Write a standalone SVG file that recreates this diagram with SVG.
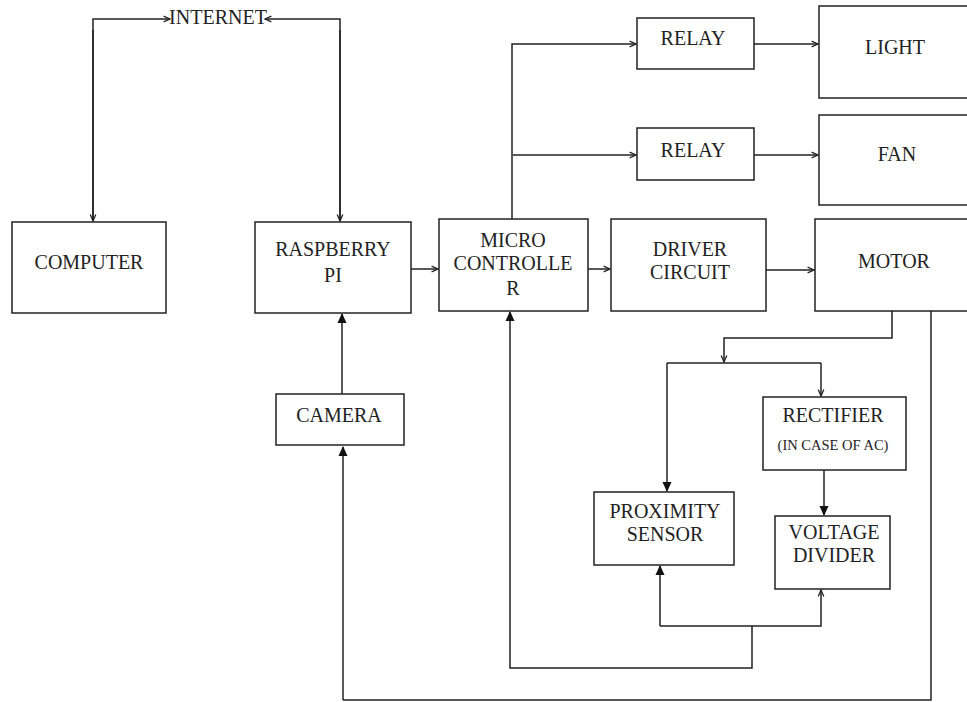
<svg xmlns="http://www.w3.org/2000/svg" width="967" height="702" viewBox="0 0 967 702">
<style>
rect.box{fill:#fff;stroke:#222;stroke-width:1.5}
text{font-family:"Liberation Serif","Times New Roman",serif;font-size:20px;fill:#222;text-anchor:middle}
text.small{font-size:14.5px}
.wire{fill:none;stroke:#222;stroke-width:1.5}
.thin{marker-end:url(#ao)}
.solid{marker-end:url(#as)}
</style>
<defs>
<marker id="ao" viewBox="0 0 10 10" refX="9" refY="5" markerWidth="8" markerHeight="8" markerUnits="userSpaceOnUse" orient="auto">
<path d="M1,1.5 L9,5 L1,8.5" fill="none" stroke="#222" stroke-width="1.6"/>
</marker>
<marker id="as" viewBox="0 0 10 10" refX="9" refY="5" markerWidth="10" markerHeight="10" markerUnits="userSpaceOnUse" orient="auto">
<path d="M0,0.5 L10,5 L0,9.5 Z" fill="#111"/>
</marker>
</defs>
<rect width="967" height="702" fill="#fff"/>
<g id="connectors">
<path class="wire thin" d="M93,221 L93,19 L170,19"/>
<path class="wire thin" d="M93,30 L93,221"/>
<path class="wire thin" d="M340,221 L340,19 L265,19"/>
<path class="wire thin" d="M340,30 L340,221"/>
<path class="wire thin" d="M411,269 L438,269"/>
<path class="wire thin" d="M512,219 L512,44 L636,44"/>
<path class="wire thin" d="M513,155 L636,155"/>
<path class="wire thin" d="M754,44 L818,44"/>
<path class="wire thin" d="M754,155 L818,155"/>
<path class="wire thin" d="M588,269 L610,269"/>
<path class="wire thin" d="M766,270 L814,270"/>
<path class="wire solid" d="M342,394 L342,314"/>
<path class="wire solid" d="M343,700 L343,447"/>
<path class="wire" d="M343,700 L931,700 L931,311"/>
<path class="wire thin" d="M892,311 L892,338 L724,338 L724,362"/>
<path class="wire" d="M667,363 L821,363"/>
<path class="wire thin" d="M821,363 L821,396"/>
<path class="wire solid" d="M667,363 L667,491"/>
<path class="wire solid" d="M824,470 L824,515"/>
<path class="wire solid" d="M660,626 L660,566"/>
<path class="wire thin" d="M660,626 L821,626 L821,590"/>
<path class="wire solid" d="M752,626 L752,668 L510,668 L510,312"/>
</g>
<g id="internet"><text x="218" y="24">INTERNET</text></g>
<g id="computer"><rect class="box" x="12" y="222" width="154" height="91"/><text x="89" y="269">COMPUTER</text></g>
<g id="raspberry"><rect class="box" x="255" y="222" width="156" height="91"/><text x="333" y="256">RASPBERRY</text><text x="333" y="282">PI</text></g>
<g id="micro"><rect class="box" x="439" y="219" width="149" height="92"/><text x="513" y="247">MICRO</text><text x="513" y="270">CONTROLLE</text><text x="513" y="295">R</text></g>
<g id="relay1"><rect class="box" x="637" y="18" width="117" height="51"/><text x="693" y="45">RELAY</text></g>
<g id="relay2"><rect class="box" x="637" y="128" width="117" height="52"/><text x="693" y="157">RELAY</text></g>
<g id="light"><rect class="box" x="819" y="6" width="160" height="92"/><text x="895" y="54">LIGHT</text></g>
<g id="fan"><rect class="box" x="819" y="115" width="160" height="90"/><text x="897" y="161">FAN</text></g>
<g id="driver"><rect class="box" x="611" y="219" width="155" height="92"/><text x="690" y="256">DRIVER</text><text x="690" y="279">CIRCUIT</text></g>
<g id="motor"><rect class="box" x="815" y="219" width="164" height="92"/><text x="894" y="268">MOTOR</text></g>
<g id="camera"><rect class="box" x="276" y="394" width="128" height="51"/><text x="339" y="422">CAMERA</text></g>
<g id="rectifier"><rect class="box" x="763" y="397" width="143" height="73"/><text x="833" y="422">RECTIFIER</text><text class="small" x="833" y="450">(IN CASE OF AC)</text></g>
<g id="proximity"><rect class="box" x="594" y="492" width="140" height="73"/><text x="665" y="518">PROXIMITY</text><text x="665" y="541">SENSOR</text></g>
<g id="divider"><rect class="box" x="775" y="516" width="115" height="73"/><text x="834" y="539">VOLTAGE</text><text x="834" y="562">DIVIDER</text></g>
</svg>
